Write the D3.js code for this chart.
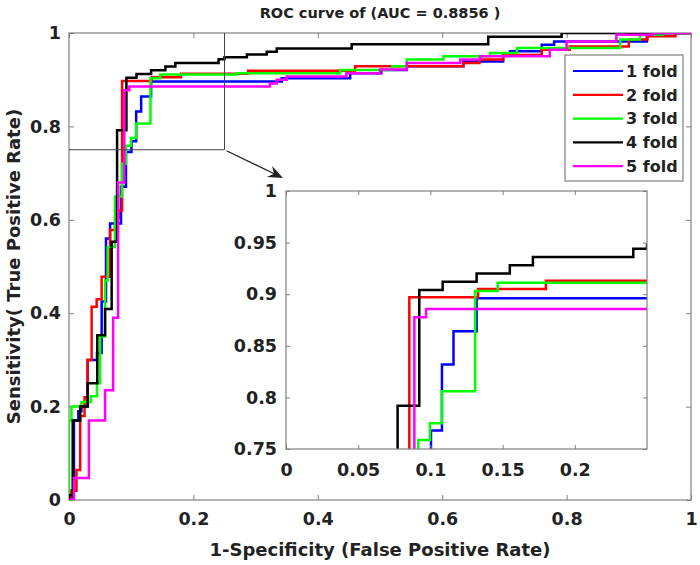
<!DOCTYPE html>
<html>
<head>
<meta charset="utf-8">
<script src="https://cdn.jsdelivr.net/npm/d3@7"></script>
<style>
  body { margin: 0; background: #fff; }
  text { font-family: "DejaVu Sans", sans-serif; font-weight: bold; fill: #222; }
</style>
</head>
<body>
<div id="chart"></div>
<script>
// ROC curve, 5-fold cross validation

var folds = ["1 fold", "2 fold", "3 fold", "4 fold", "5 fold"];
var colors = ["#0000ff", "#ff0000", "#00ff00", "#000000", "#ff00ff"];

// [fpr, tpr] -- tpr reached once fpr is hit
var fold1 = [[0,0],[0.005,0.02],[0.008,0.17],[0.015,0.19],[0.02,0.2],[0.03,0.3],[0.045,0.315],[0.0525,0.425],
  [0.0595,0.56],[0.066,0.592],[0.0836,0.671],[0.0916,0.745],[0.1004,0.768],[0.108,0.832],[0.116,0.864],
  [0.132,0.896],[0.342,0.903],[0.452,0.914],[0.502,0.921],[0.543,0.929],[0.634,0.939],[0.698,0.954],
  [0.709,0.961],[0.76,0.975],[0.78,0.982],[0.929,0.996],[0.955,1],[1,1]];
var fold2 = [[0,0],[0.003,0.02],[0.012,0.064],[0.018,0.18],[0.025,0.22],[0.03,0.3],[0.0364,0.414],[0.0445,0.43],
  [0.0525,0.478],[0.066,0.578],[0.074,0.604],[0.08,0.62],[0.0854,0.897],[0.133,0.905],[0.18,0.913],
  [0.288,0.919],[0.46,0.929],[0.634,0.936],[0.66,0.943],[0.698,0.953],[0.76,0.964],[0.805,0.971],
  [0.9,0.986],[0.93,0.993],[0.975,1],[1,1]];
var fold3 = [[0,0],[0,0.17],[0.004,0.2],[0.02,0.21],[0.035,0.222],[0.045,0.25],[0.05,0.35],[0.058,0.47],
  [0.062,0.542],[0.074,0.65],[0.085,0.72],[0.0916,0.7587],[0.0997,0.775],[0.108,0.806],[0.131,0.903],
  [0.1466,0.911],[0.27,0.914],[0.436,0.921],[0.52,0.929],[0.543,0.943],[0.602,0.95],[0.677,0.957],
  [0.72,0.968],[0.886,0.986],[0.918,0.996],[0.955,1],[1,1]];
var fold4 = [[0,0],[0,0.01],[0.006,0.17],[0.018,0.2],[0.03,0.25],[0.0455,0.353],[0.058,0.409],[0.0686,0.553],
  [0.0773,0.792],[0.0923,0.904],[0.1085,0.912],[0.132,0.92],[0.155,0.928],[0.171,0.936],[0.2405,0.944],
  [0.25,0.948],[0.286,0.954],[0.318,0.96],[0.334,0.967],[0.4545,0.976],[0.674,0.992],[0.792,1],[1,1]];
var fold5 = [[0,0],[0.008,0.047],[0.032,0.17],[0.058,0.235],[0.071,0.39],[0.079,0.68],[0.0889,0.8776],
  [0.097,0.8857],[0.323,0.892],[0.334,0.9],[0.35,0.907],[0.446,0.914],[0.5,0.922],[0.543,0.936],
  [0.629,0.943],[0.661,0.95],[0.773,0.964],[0.8,0.982],[0.88,0.996],[0.939,1],[1,1]];
var series = [fold1, fold2, fold3, fold4, fold5];

var mainTicks = [0, 0.2, 0.4, 0.6, 0.8, 1];
var insetXTicks = [0, 0.05, 0.1, 0.15, 0.2];
var insetYTicks = [0.75, 0.8, 0.85, 0.9, 0.95, 1];
var zoomX = [0, 0.25];
var zoomY = [0.75, 1];

var W = 700, H = 565;
var axisColor = "#808080";
var fmt = d3.format("");

var svg = d3.select("#chart").append("svg")
  .attr("width", W)
  .attr("height", H);

var x = d3.scaleLinear().domain([0, 1]).range([69, 691]);
var y = d3.scaleLinear().domain([0, 1]).range([500, 33]);
var xi = d3.scaleLinear().domain(zoomX).range([286, 647]);
var yi = d3.scaleLinear().domain(zoomY).range([449, 191]);

var defs = svg.append("defs");
defs.append("clipPath").attr("id", "clipMain").append("rect")
  .attr("x", x(0)).attr("y", y(1)).attr("width", x(1) - x(0)).attr("height", y(0) - y(1));
defs.append("clipPath").attr("id", "clipInset").append("rect")
  .attr("x", xi(zoomX[0])).attr("y", yi(zoomY[1]))
  .attr("width", xi(zoomX[1]) - xi(zoomX[0])).attr("height", yi(zoomY[0]) - yi(zoomY[1]));

function styleAxis(g, size) {
  g.select(".domain").remove();
  g.selectAll(".tick line").attr("stroke", axisColor).attr("stroke-width", 1);
  g.selectAll(".tick text").style("font-size", size + "px").attr("fill", "#222");
}

function drawAxes(sx, sy, xt, yt, tick, xpad, ypad) {
  var x0 = sx.range()[0], x1 = sx.range()[1], y0 = sy.range()[0], y1 = sy.range()[1];
  svg.append("g").attr("transform", "translate(0," + y0 + ")")
    .call(d3.axisBottom(sx).tickValues(xt).tickFormat(fmt).tickSizeInner(-tick).tickSizeOuter(0).tickPadding(xpad))
    .call(styleAxis, 17.5);
  svg.append("g").attr("transform", "translate(0," + y1 + ")")
    .call(d3.axisTop(sx).tickValues(xt).tickFormat("").tickSizeInner(-tick).tickSizeOuter(0))
    .call(styleAxis, 17.5);
  svg.append("g").attr("transform", "translate(" + x0 + ",0)")
    .call(d3.axisLeft(sy).tickValues(yt).tickFormat(fmt).tickSizeInner(-tick).tickSizeOuter(0).tickPadding(ypad))
    .call(styleAxis, 17.5);
  svg.append("g").attr("transform", "translate(" + x1 + ",0)")
    .call(d3.axisRight(sy).tickValues(yt).tickFormat("").tickSizeInner(-tick).tickSizeOuter(0))
    .call(styleAxis, 17.5);
  svg.append("rect")
    .attr("x", x0).attr("y", y1).attr("width", x1 - x0).attr("height", y0 - y1)
    .attr("fill", "none").attr("stroke", axisColor).attr("stroke-width", 1.2);
}

// main plot
drawAxes(x, y, mainTicks, mainTicks, 5, 13, 8);

var line = d3.line().curve(d3.curveStepAfter)
  .x(function(d){ return x(d[0]); })
  .y(function(d){ return y(d[1]); });

svg.append("g").attr("clip-path", "url(#clipMain)")
  .selectAll("path").data(series).enter().append("path")
  .attr("d", line)
  .attr("fill", "none")
  .attr("stroke", function(d, i){ return colors[i]; })
  .attr("stroke-width", 2.5);

// zoom region marker
svg.append("path")
  .attr("d", "M" + x(zoomX[0]) + "," + y(zoomY[0]) + "H" + x(zoomX[1]) + "V" + y(zoomY[1]))
  .attr("fill", "none").attr("stroke", "#444").attr("stroke-width", 1);

// arrow to inset
var ax0 = x(zoomX[1]) + 2, ay0 = y(zoomY[0]) + 1;
var ax1 = xi(0) - 3, ay1 = yi(1) - 13;
var ang = Math.atan2(ay1 - ay0, ax1 - ax0);
svg.append("line")
  .attr("x1", ax0).attr("y1", ay0)
  .attr("x2", ax1 - 8 * Math.cos(ang)).attr("y2", ay1 - 8 * Math.sin(ang))
  .attr("stroke", "#222").attr("stroke-width", 1.2);
function rot(dx, dy) {
  return [ax1 + dx * Math.cos(ang) - dy * Math.sin(ang), ay1 + dx * Math.sin(ang) + dy * Math.cos(ang)];
}
svg.append("path")
  .attr("d", "M" + [rot(0, 0), rot(-15, -6), rot(-10, 0), rot(-15, 6)].map(function(p){ return p.join(","); }).join("L") + "Z")
  .attr("fill", "#222");

// inset
svg.append("rect")
  .attr("x", xi.range()[0]).attr("y", yi.range()[1])
  .attr("width", xi.range()[1] - xi.range()[0]).attr("height", yi.range()[0] - yi.range()[1])
  .attr("fill", "#fff");

var lineInset = d3.line().curve(d3.curveStepAfter)
  .x(function(d){ return xi(d[0]); })
  .y(function(d){ return yi(d[1]); });

svg.append("g").attr("clip-path", "url(#clipInset)")
  .selectAll("path").data(series).enter().append("path")
  .attr("d", lineInset)
  .attr("fill", "none")
  .attr("stroke", function(d, i){ return colors[i]; })
  .attr("stroke-width", 2.5);

drawAxes(xi, yi, insetXTicks, insetYTicks, 4, 15, 9);

// legend
var legend = svg.append("g");
legend.append("rect")
  .attr("x", 565).attr("y", 55).attr("width", 118).attr("height", 126)
  .attr("fill", "#fff").attr("stroke", axisColor).attr("stroke-width", 1.2);
var rows = legend.selectAll("g.row").data(folds).enter().append("g")
  .attr("class", "row")
  .attr("transform", function(d, i){ return "translate(0," + (71 + i * 23.8) + ")"; });
rows.append("line")
  .attr("x1", 573).attr("x2", 623)
  .attr("stroke", function(d, i){ return colors[i]; })
  .attr("stroke-width", 2.2);
rows.append("text")
  .attr("x", 626).attr("dy", "0.36em")
  .style("font-size", "16px")
  .text(function(d){ return d; });

// titles
svg.append("text")
  .attr("x", (x(0) + x(1)) / 2).attr("y", 17.5)
  .attr("text-anchor", "middle")
  .style("font-size", "14.5px")
  .text("ROC curve of (AUC = 0.8856 )");

svg.append("text")
  .attr("x", (x(0) + x(1)) / 2).attr("y", 556)
  .attr("text-anchor", "middle")
  .style("font-size", "18px")
  .text("1-Specificity (False Positive Rate)");

svg.append("text")
  .attr("transform", "translate(20," + ((y(0) + y(1)) / 2) + ") rotate(-90)")
  .attr("text-anchor", "middle")
  .style("font-size", "18px")
  .text("Sensitivity( True Positive Rate)");
</script>
</body>
</html>
